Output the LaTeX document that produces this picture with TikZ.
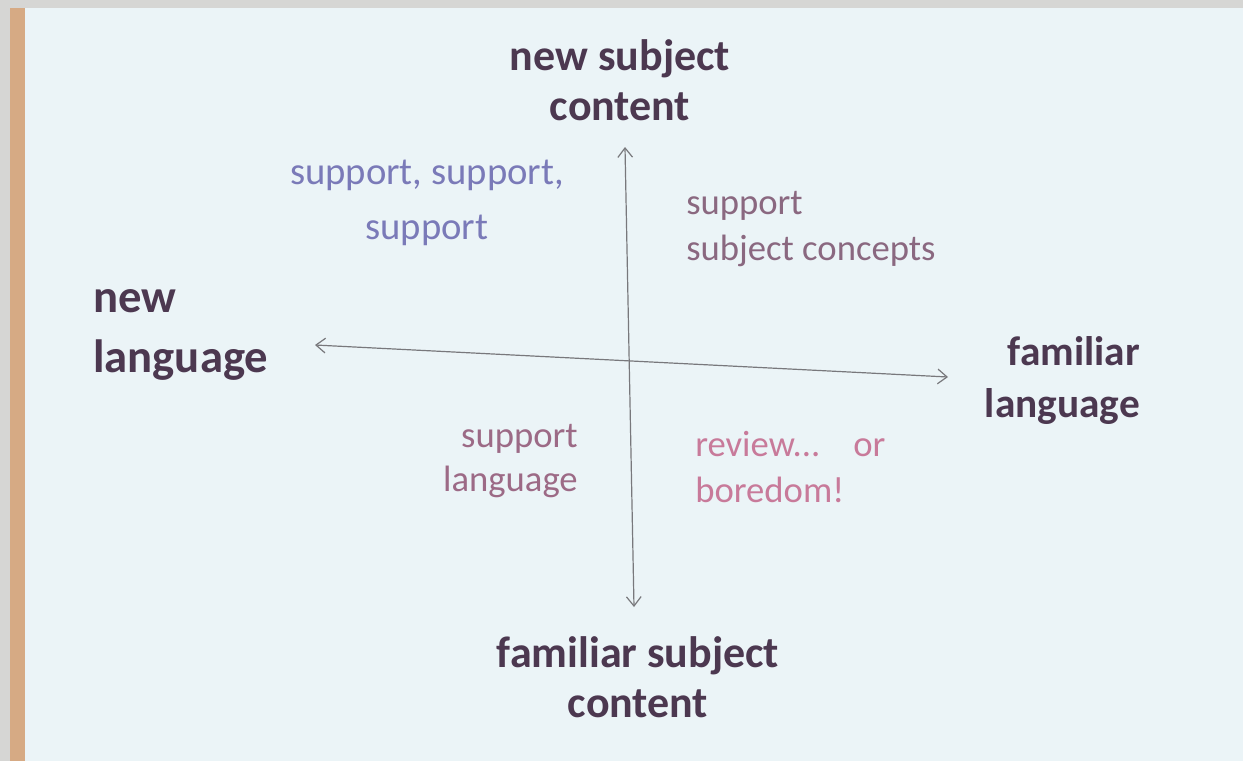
\documentclass[tikz,border=0pt]{standalone}
\usepackage{fontspec}
\setmainfont{Carlito}
\usepackage{xcolor}
\usepackage{tikz}
\usetikzlibrary{arrows.meta}

\definecolor{slidebg}{RGB}{235,244,247}
\definecolor{framegray}{RGB}{214,214,212}
\definecolor{woodstrip}{RGB}{214,170,132}
\definecolor{headtxt}{RGB}{76,56,80}
\definecolor{axisgray}{RGB}{120,120,124}
\definecolor{bluetxt}{RGB}{122,122,184}
\definecolor{mauvetxt}{RGB}{138,104,128}
\definecolor{rosetxt}{RGB}{156,106,134}
\definecolor{pinktxt}{RGB}{200,122,154}

\tikzset{
  heading/.style={inner sep=0.75pt, color=headtxt, font=\fontsize{33}{37.5}\selectfont\bfseries},
  quadtext/.style={inner sep=0.75pt, font=\fontsize{27}{35}\selectfont},
  axisline/.style={color=axisgray, line width=0.9pt, {Straight Barb[length=7pt,width=11pt]}-{Straight Barb[length=7pt,width=11pt]}}
}

\begin{document}
\begin{tikzpicture}[x=0.75pt,y=0.75pt,yscale=-1,xscale=1]
		\useasboundingbox (0,0) rectangle (1243,761);
		
		%Shape: frame and slide
		\fill [framegray] (0,0) rectangle (1243,761);
		\fill [woodstrip] (10,8) rectangle (25,761);
		\fill [slidebg] (25,8) rectangle (1243,761);
		
		% axis end points
		\coordinate (ctop) at (625,147);
		\coordinate (cbot) at (634,607);
		\coordinate (clft) at (315,345);
		\coordinate (crgt) at (948,377);
		
		%Straight Lines: axes
		\draw [axisline] (cbot) -- (ctop);
		\draw [axisline] (clft) -- (crgt);
		
		% Text Node
		\node (newsub) [heading, align=center] at (620,80) {new subject\\content};
		% Text Node
		\node (famsub) [heading, align=center] at (638,677) {familiar subject\\content};
		% Text Node
		\node (newlang) [heading, font=\fontsize{35}{45}\selectfont\bfseries, align=left, anchor=west] at (92,335) {new\\language};
		% Text Node
		\node (famlang) [heading, font=\fontsize{31}{39}\selectfont\bfseries, align=right, anchor=east] at (1141,380) {familiar\\language};
		
		% Text Node
		\node (suppx3) [quadtext, font=\fontsize{29}{41}\selectfont, color=bluetxt, align=center] at (427,203) {support, support,\\support};
		% Text Node
		\node (suppconc) [quadtext, font=\fontsize{27.5}{35}\selectfont, color=mauvetxt, align=left, anchor=west] at (685,229) {support\\subject concepts};
		% Text Node
		\node (supplang) [quadtext, font=\fontsize{27.5}{33}\selectfont, color=rosetxt, align=right, anchor=east] at (579,461) {support\\language};
		% Text Node
		\node (review) [quadtext, font=\fontsize{27.5}{35}\selectfont, color=pinktxt, align=left, anchor=west] at (694,467) {review...\hspace{0.9em}or\\boredom!};
	\end{tikzpicture}
\end{document}
